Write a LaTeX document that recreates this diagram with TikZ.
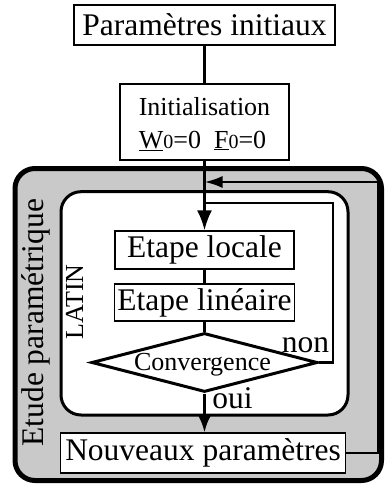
\documentclass[tikz,border=0pt]{standalone}
\usepackage{fontspec}
\setmainfont{Liberation Serif}
\usetikzlibrary{arrows.meta,shapes.geometric}
\definecolor{bggray}{gray}{0.79}
\begin{document}
\begin{tikzpicture}[x=1pt,y=-1pt,
  bigtxt/.style={font=\fontsize{31.5}{34}\selectfont},
  smalltxt/.style={font=\fontsize{26}{30}\selectfont},
  plainbox/.style={draw, line width=1.3pt, inner sep=0pt, anchor=center},
  conn/.style={line width=2.5pt},
  arrbig/.style={conn, -{Latex[length=20pt,width=15pt]}},
  arrmid/.style={conn, -{Latex[length=17pt,width=13pt]}},
  arrleft/.style={conn, -{Latex[length=18pt,width=12pt]}}]
\useasboundingbox (0,0) rectangle (385,484);
% frames
\draw[line width=5pt, fill=bggray, rounded corners=20pt] (15,168.5) rectangle (381.5,480.5);
\draw[line width=3pt, fill=white, rounded corners=20pt] (61,191.7) rectangle (348,415);
% nodes
\node[plainbox, bigtxt, minimum width=261pt, minimum height=40pt] (p0) at (204.5,25) {Paramètres initiaux};
\node[plainbox, minimum width=169pt, minimum height=76pt, fill=white] (init) at (204.5,122) {};
\node[smalltxt, anchor=base] (initt) at (204.5,115) {Initialisation};
\node[smalltxt, anchor=base] (initv) at (202.5,148) {\underline{W}{\fontsize{20}{20}\selectfont 0}=0\hspace{13pt}\underline{F}{\fontsize{20}{20}\selectfont 0}=0};
\node[plainbox, bigtxt, minimum width=179pt, minimum height=38pt, fill=white] (loc) at (204.5,250) {Etape locale};
\node[plainbox, bigtxt, minimum width=180pt, minimum height=37pt, fill=white] (lin) at (204.5,302.5) {Etape linéaire};
\node[diamond, draw, line width=3pt, minimum width=226pt, minimum height=59pt, inner sep=0pt, fill=white] (conv) at (204.5,362.5) {};
\node[smalltxt] (convt) at (202.5,364.5) {Convergence};
\node[plainbox, bigtxt, minimum width=285pt, minimum height=40pt, fill=white] (nouv) at (203,453) {Nouveaux paramètres};
\node[bigtxt, anchor=base] (non) at (305.5,352) {non};
\node[bigtxt, anchor=base] (oui) at (232.5,408) {oui};
\node[bigtxt, rotate=90, anchor=base west] (etude) at (43,450) {Etude paramétrique};
\node[smalltxt, rotate=90, anchor=base west] (latin) at (83,343) {LATIN};
% connectors
\coordinate (fbc) at (378,182);
\coordinate (lpc) at (333,203);
\draw[conn] (p0) -- (init);
\draw[arrbig] (init) -- (loc);
\draw[conn] (loc) -- (lin);
\draw[conn] (lin) -- (conv);
\draw[arrmid] (conv) -- (nouv.north -| conv.south);
\draw[arrleft] (nouv.east) -| (fbc) -- (fbc -| loc.north);
\draw[conn] (conv.east) -| (lpc) -- (lpc -| loc.north);
\end{tikzpicture}
\end{document}
